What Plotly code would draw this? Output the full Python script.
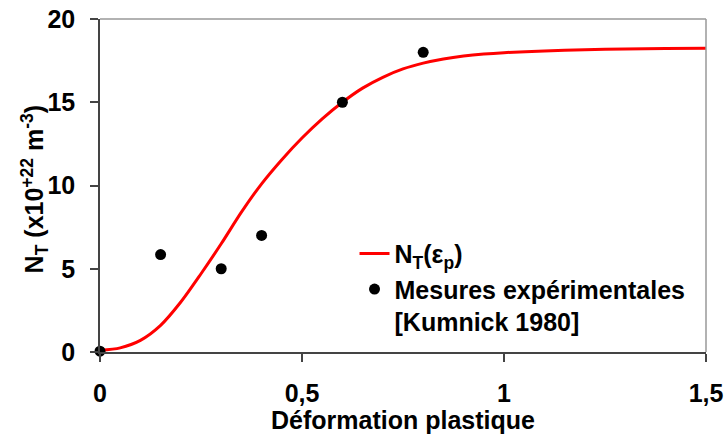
import plotly.graph_objects as go

# Model curve N_T(eps_p)
curve_x = [0, 0.05, 0.10, 0.15, 0.20, 0.25, 0.30, 0.35, 0.40, 0.45, 0.50, 0.55, 0.60, 0.65,
           0.70, 0.75, 0.80, 0.85, 0.90, 0.95, 1.00, 1.10, 1.20, 1.30, 1.40, 1.50]
curve_y = [0.1, 0.25, 0.7, 1.6, 3.0, 4.7, 6.5, 8.4, 10.1, 11.55, 12.85, 14.0, 15.0, 15.85,
           16.5, 17.0, 17.35, 17.6, 17.78, 17.9, 17.98, 18.08, 18.15, 18.2, 18.23, 18.25]

# Experimental measurements [Kumnick 1980]
meas_x = [0, 0.15, 0.30, 0.40, 0.60, 0.80]
meas_y = [0.05, 5.85, 5.0, 7.0, 15.0, 18.0]

FONT = "Liberation Sans, Arial, sans-serif"
FS = 25
bold = dict(family=FONT, size=FS, color="black", weight="bold")

fig = go.Figure()
fig.add_trace(go.Scatter(
    x=curve_x, y=curve_y, mode="lines", line=dict(color="#ff0000", width=3, shape="spline", smoothing=0.8),
    name="N<sub>T</sub>(ε<sub>p</sub>)", cliponaxis=False))
fig.add_trace(go.Scatter(
    x=meas_x, y=meas_y, mode="markers", marker=dict(color="black", size=11),
    name="Mesures expérimentales<br>[Kumnick 1980]", cliponaxis=False))

fig.update_layout(
    width=725, height=434,
    margin=dict(l=100, r=19, t=19, b=82),
    paper_bgcolor="white", plot_bgcolor="white",
    separators=", ",
    font=bold,
    showlegend=True,
    legend=dict(x=0.42, y=0.364, xanchor="left", yanchor="top", bgcolor="rgba(0,0,0,0)",
                font=bold, tracegroupgap=0, valign="top"),
    shapes=[dict(type="line", xref="x domain", yref="y domain", x0=0, x1=1, y0=1, y1=1,
                 line=dict(color="#999999", width=1.5)),
            dict(type="line", xref="x domain", yref="y domain", x0=1, x1=1, y0=0, y1=1,
                 line=dict(color="#999999", width=1.5))],
    annotations=[dict(text="N<sub>T</sub> (x10<sup>+22</sup> m<sup>-3</sup>)", textangle=-90,
                      xref="paper", yref="paper", x=-0.108, y=0.49,
                      xanchor="center", yanchor="middle", showarrow=False, font=bold)],
)
fig.update_xaxes(range=[0, 1.5], dtick=0.5, showgrid=False, zeroline=False, automargin=False,
                 showline=True, linecolor="#444444", linewidth=1.5,
                 ticks="outside", ticklen=8, tickcolor="#444444", tickwidth=1.5,
                 ticklabelstandoff=10, tickfont=bold,
                 title=dict(text="Déformation plastique", standoff=0, font=bold))
fig.update_yaxes(range=[0, 20], dtick=5, showgrid=False, zeroline=False, automargin=False,
                 showline=True, linecolor="#444444", linewidth=1.5,
                 ticks="outside", ticklen=8, tickcolor="#444444", tickwidth=1.5,
                 ticklabelstandoff=10, tickfont=bold)

fig.write_html("out.html", config={"displayModeBar": False},
               post_script="document.body.style.margin='0';document.body.style.padding='0';")
